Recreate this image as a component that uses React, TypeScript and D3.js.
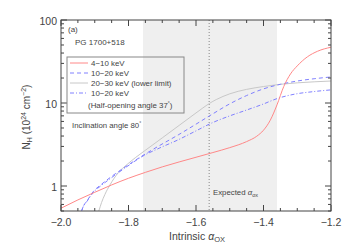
import React from "react";
import * as d3 from "d3";

const redA = [-2.0, -1.95, -1.9, -1.85, -1.8, -1.75, -1.7, -1.65, -1.6, -1.55, -1.5, -1.45, -1.42, -1.4, -1.38, -1.36, -1.34, -1.32, -1.3, -1.27, -1.24, -1.2];
const redN = [0.54, 0.68, 0.84, 1.03, 1.24, 1.46, 1.7, 1.95, 2.22, 2.53, 2.9, 3.43, 3.98, 4.7, 6.2, 9.5, 15.8, 22.4, 28, 36, 42, 47];

const dashA = [-1.945, -1.938, -1.92, -1.905, -1.88, -1.855, -1.804, -1.757, -1.707, -1.653, -1.6, -1.55, -1.5, -1.45, -1.4, -1.35, -1.3, -1.25, -1.2];
const dashN = [0.4, 0.513, 0.69, 0.85, 1.05, 1.26, 1.76, 2.34, 3.09, 4.12, 5.56, 7.41, 9.77, 12.3, 14.8, 16.8, 18.4, 19.6, 20.6];

const grayA = [-1.892, -1.887, -1.88, -1.87, -1.855, -1.83, -1.804, -1.78, -1.757, -1.73, -1.7, -1.65, -1.6, -1.58, -1.56, -1.54, -1.52, -1.5, -1.45, -1.4, -1.35, -1.3, -1.25, -1.2];
const grayN = [0.45, 0.514, 0.63, 0.79, 1.03, 1.45, 1.82, 2.19, 2.57, 3.09, 3.8, 5.37, 7.59, 8.7, 9.9, 11.0, 12.0, 12.9, 14.6, 15.8, 16.8, 17.5, 18.0, 18.4];

const ddA = [-1.945, -1.938, -1.92, -1.905, -1.88, -1.855, -1.804, -1.757, -1.707, -1.653, -1.603, -1.553, -1.502, -1.455, -1.404, -1.357, -1.307, -1.253, -1.2];
const ddN = [0.4, 0.513, 0.68, 0.83, 1.02, 1.22, 1.72, 2.3, 2.88, 3.6, 4.55, 5.75, 6.95, 8.1, 9.6, 11.4, 12.8, 13.7, 14.4];

const xMajor = [-2.0, -1.8, -1.6, -1.4, -1.2];
const xMajorLabels = ["\u22122.0", "\u22121.8", "\u22121.6", "\u22121.4", "\u22121.2"];
const yMajor = [1, 10, 100];
const yMajorLabels = ["1", "10", "100"];

const shadeRange = [-1.757, -1.36];
const expectedAox = -1.561;

const legendLabels = ["4\u221210 keV", "10\u221220 keV", "20\u221230 keV (lower limit)", "10\u221220 keV"];

export default function App() {
  const W = 350, H = 250;
  const L = 61, R = 331, T = 20, B = 211;
  const x = d3.scaleLinear().domain([-2.0, -1.2]).range([L, R]);
  const y = d3.scaleLog().domain([0.5, 100]).range([B, T]);

  const mk = (A: number[], N: number[]) =>
    d3.line<number>().x((_, i) => x(A[i])).y((_, i) => y(N[i])).curve(d3.curveMonotoneX)(A) || "";

  const red = "#ff8888";
  const blue = "#8080ff";
  const gray = "#c8c8c8";
  const axisCol = "#444";
  const textCol = "#444";
  const font = "Liberation Sans, Arial, sans-serif";

  const xMinor = d3.range(-2.0, -1.199, 0.05).map((v) => +v.toFixed(2));
  const yMinor: number[] = [];
  [0.1, 1, 10].forEach((dec) => {
    for (let k = 2; k <= 9; k++) {
      const v = dec * k;
      if (v >= 0.5 && v <= 100) yMinor.push(v);
    }
  });

  const legX1 = 70, legX2 = 88, legTx = 91;
  const legY = [63, 73, 83, 93];
  const legStyles = [
    { c: red, d: "" },
    { c: blue, d: "4,3" },
    { c: gray, d: "" },
    { c: blue, d: "4,2,1,2" },
  ];

  return (
    <svg width={W} height={H} style={{ position: "absolute", left: 0, top: 0, background: "#fff" }}>
      <defs>
        <clipPath id="plot">
          <rect x={L} y={T} width={R - L} height={B - T} />
        </clipPath>
      </defs>
      <rect x={x(shadeRange[0])} y={T} width={x(shadeRange[1]) - x(shadeRange[0])} height={B - T} fill="#efefef" />
      <line x1={x(expectedAox)} x2={x(expectedAox)} y1={T} y2={B} stroke="#888" strokeWidth={1} strokeDasharray="1,2" />
      <g clipPath="url(#plot)" fill="none" strokeWidth={1}>
        <path d={mk(grayA, grayN)} stroke={gray} />
        <path d={mk(ddA, ddN)} stroke={blue} strokeDasharray="4,2,1,2" />
        <path d={mk(dashA, dashN)} stroke={blue} strokeDasharray="4,3" />
        <path d={mk(redA, redN)} stroke={red} />
      </g>
      <rect x={L} y={T} width={R - L} height={B - T} fill="none" stroke={axisCol} strokeWidth={1} />
      {xMinor.map((v, i) => {
        const major = xMajor.some((m) => Math.abs(m - v) < 1e-6);
        const len = major ? 6 : 3;
        return (
          <g key={"xt" + i} stroke={axisCol}>
            <line x1={x(v)} x2={x(v)} y1={B} y2={B - len} />
            <line x1={x(v)} x2={x(v)} y1={T} y2={T + len} />
          </g>
        );
      })}
      {xMajor.map((v, i) => (
        <text key={"xl" + i} x={x(v)} y={226} textAnchor="middle" fontFamily={font} fontSize={10.5} fill={textCol}>
          {xMajorLabels[i]}
        </text>
      ))}
      {yMinor.map((v, i) => (
        <g key={"ym" + i} stroke={axisCol}>
          <line x1={L} x2={L + 3} y1={y(v)} y2={y(v)} />
          <line x1={R} x2={R - 3} y1={y(v)} y2={y(v)} />
        </g>
      ))}
      {yMajor.map((v, i) => (
        <g key={"yM" + i}>
          <line x1={L} x2={L + 6} y1={y(v)} y2={y(v)} stroke={axisCol} />
          <line x1={R} x2={R - 6} y1={y(v)} y2={y(v)} stroke={axisCol} />
          <text x={L - 4} y={y(v) + 4.5} textAnchor="end" fontFamily={font} fontSize={10.5} fill={textCol}>
            {yMajorLabels[i]}
          </text>
        </g>
      ))}
      <text x={197} y={240} textAnchor="middle" fontFamily={font} fontSize={10.5} fill={textCol}>
        Intrinsic <tspan fontStyle="italic">α</tspan>
        <tspan dy={2} fontSize={7.5}>OX</tspan>
      </text>
      <text transform="translate(30,117) rotate(-90)" textAnchor="middle" fontFamily={font} fontSize={10} fill={textCol}>
        N<tspan dy={2} fontSize={7}>H</tspan>
        <tspan dy={-2}> (10</tspan>
        <tspan dy={-4} fontSize={7}>24</tspan>
        <tspan dy={4}> cm</tspan>
        <tspan dy={-4} fontSize={7}>−2</tspan>
        <tspan dy={4}>)</tspan>
      </text>
      <text x={68} y={32} fontFamily={font} fontSize={8} fill={textCol}>(a)</text>
      <text x={75} y={45} fontFamily={font} fontSize={8} fill={textCol}>PG 1700+518</text>
      <text x={72} y={128} fontFamily={font} fontSize={7.8} fill={textCol}>
        Inclination angle 80<tspan dy={-3} fontSize={5}>°</tspan>
      </text>
      <text x={213} y={195} fontFamily={font} fontSize={7.8} fill={textCol}>
        Expected <tspan fontStyle="italic">α</tspan>
        <tspan dy={2} fontSize={5.5}>ox</tspan>
      </text>
      <rect x={67} y={57} width={117} height={56} fill="none" stroke="#888" strokeWidth={1} />
      {legendLabels.map((lab, i) => (
        <g key={"lg" + i}>
          <line x1={legX1} x2={legX2} y1={legY[i]} y2={legY[i]} stroke={legStyles[i].c} strokeDasharray={legStyles[i].d} />
          <text x={legTx} y={legY[i] + 3} fontFamily={font} fontSize={7.9} fill={textCol}>{lab}</text>
        </g>
      ))}
      <text x={88} y={108} fontFamily={font} fontSize={7.9} fill={textCol}>
        (Half-opening angle 37<tspan dy={-3} fontSize={5}>°</tspan><tspan dy={3}>)</tspan>
      </text>
    </svg>
  );
}
